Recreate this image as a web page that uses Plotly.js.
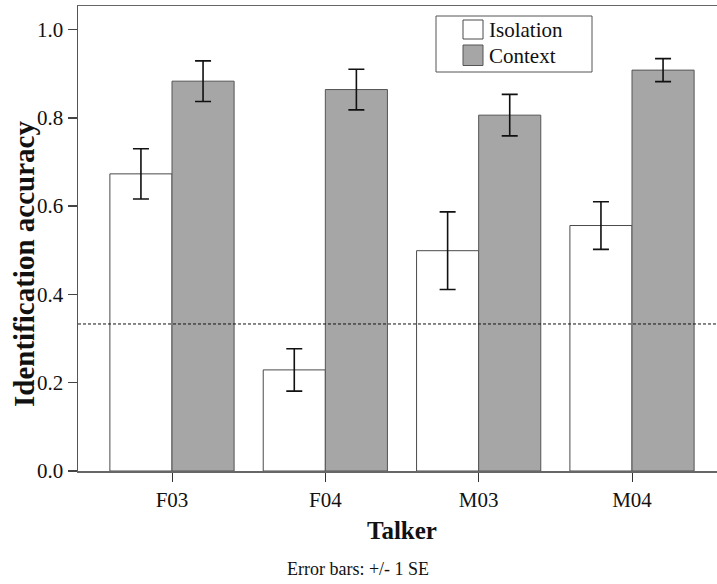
<!DOCTYPE html>
<html>
<head>
<meta charset="utf-8">
<script src="https://cdn.plot.ly/plotly-3.0.1.min.js"></script>
<style>
html,body{margin:0;padding:0;overflow:hidden;background:#fff;width:717px;height:584px;}
#chart{width:726px;height:584px;}
</style>
</head>
<body>
<div id="chart"></div>
<script>
const talkers = ["F03", "F04", "M03", "M04"];
const seriesNames = ["Isolation", "Context"];
const isolation = [0.673, 0.229, 0.499, 0.556];
const isolationSE = [0.057, 0.048, 0.088, 0.054];
const context = [0.883, 0.864, 0.806, 0.908];
const contextSE = [0.046, 0.046, 0.047, 0.026];
const chanceLevel = 0.333;
const yTicks = [0, 0.2, 0.4, 0.6, 0.8, 1.0];
const yTickText = ["0.0", "0.2", "0.4", "0.6", "0.8", "1.0"];
const xTitle = "Talker";
const yTitle = "Identification accuracy";
const footnote = "Error bars: +/- 1 SE";

const W = 726, H = 584, ML = 78, MT = 6, MB = 113, MR = 0;
const PW = W - ML - MR, PH = H - MT - MB;
const px = x => (x - ML) / PW;
const py = y => (H - MB - y) / PH;

const serif = "Liberation Serif";
const fills = ["#ffffff", "#a6a6a6"];
const borders = ["#4a4a4a", "#555555"];

const traces = [
  {type: "bar", name: seriesNames[0], x: talkers, y: isolation,
   marker: {color: fills[0], line: {color: borders[0], width: 1}},
   error_y: {type: "data", array: isolationSE, visible: true, color: "#111", thickness: 1.6, width: 8}},
  {type: "bar", name: seriesNames[1], x: talkers, y: context,
   marker: {color: fills[1], line: {color: borders[1], width: 1}},
   error_y: {type: "data", array: contextSE, visible: true, color: "#111", thickness: 1.6, width: 8}}
];

const shapes = [
  {type: "line", xref: "paper", x0: 0, x1: 1, yref: "y", y0: chanceLevel, y1: chanceLevel,
   line: {color: "#111", width: 1, dash: "3px,2px"}, layer: "above"},
  {type: "rect", xref: "paper", yref: "paper", x0: px(436), x1: px(592), y0: py(16), y1: py(72),
   line: {color: "#555", width: 1}, fillcolor: "#fff", layer: "above"},
  {type: "rect", xref: "paper", yref: "paper", x0: px(463), x1: px(483), y0: py(20), y1: py(39),
   line: {color: borders[0], width: 1}, fillcolor: fills[0], layer: "above"},
  {type: "rect", xref: "paper", yref: "paper", x0: px(463), x1: px(483), y0: py(45), y1: py(65.5),
   line: {color: borders[1], width: 1}, fillcolor: fills[1], layer: "above"}
];

const annotations = [
  {xref: "paper", yref: "paper", x: px(487), y: py(30), xanchor: "left", yanchor: "middle",
   text: seriesNames[0], showarrow: false, font: {family: serif, size: 21, color: "#111"}},
  {xref: "paper", yref: "paper", x: px(487), y: py(55.5), xanchor: "left", yanchor: "middle",
   text: seriesNames[1], showarrow: false, font: {family: serif, size: 21, color: "#111"}},
  {xref: "paper", yref: "paper", x: px(24), y: py(264), xanchor: "center", yanchor: "middle",
   textangle: -90, text: "<b>" + yTitle + "</b>", showarrow: false,
   font: {family: serif, size: 29, color: "#111"}},
  {xref: "paper", yref: "paper", x: px(402), y: py(530), xanchor: "center", yanchor: "middle",
   text: "<b>" + xTitle + "</b>", showarrow: false, font: {family: serif, size: 25, color: "#111"}},
  {xref: "paper", yref: "paper", x: px(358), y: py(569), xanchor: "center", yanchor: "middle",
   text: footnote, showarrow: false, font: {family: serif, size: 18, color: "#111"}}
];

const layout = {
  width: W, height: H,
  margin: {l: ML, r: MR, t: MT, b: MB, pad: 0},
  paper_bgcolor: "#fff", plot_bgcolor: "#fff",
  barmode: "group", bargap: 0.19, bargroupgap: 0,
  showlegend: false,
  font: {family: serif, color: "#111"},
  xaxis: {type: "category", range: [-0.613, 3.613], showgrid: false, zeroline: false,
    showline: true, mirror: true, linecolor: "#666", linewidth: 1.5,
    ticks: "outside", ticklen: 9, tickcolor: "#333", tickwidth: 1,
    tickfont: {family: serif, size: 21, color: "#111"}},
  yaxis: {range: [0, PH / 441.5], showgrid: false, zeroline: false,
    showline: true, mirror: false, linecolor: "#555", linewidth: 1.5,
    ticks: "outside", ticklen: 9, tickcolor: "#444", tickwidth: 1.5,
    tickvals: yTicks, ticktext: yTickText,
    tickfont: {family: serif, size: 21, color: "#111"}},
  shapes: shapes,
  annotations: annotations
};

Plotly.newPlot("chart", traces, layout, {displayModeBar: false, staticPlot: true});
</script>
</body>
</html>
